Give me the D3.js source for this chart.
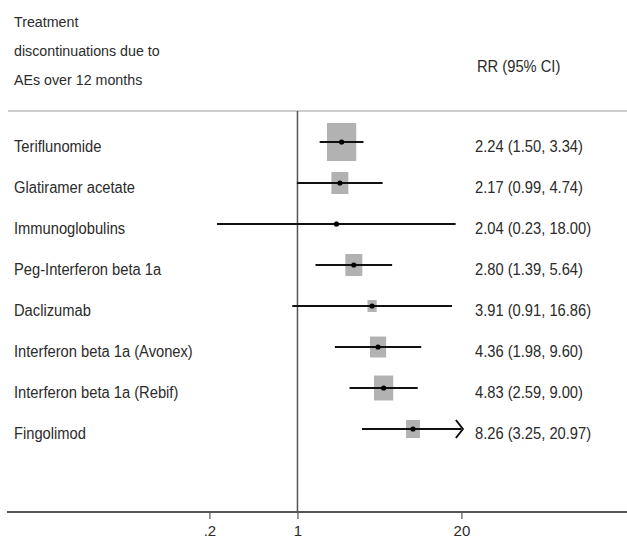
<!DOCTYPE html>
<html>
<head>
<meta charset="utf-8">
<script src="https://cdn.jsdelivr.net/npm/d3@7"></script>
<style>
  html, body { margin: 0; padding: 0; background: #fff; }
  svg { display: block; }
  text { font-family: "Liberation Sans", Arial, sans-serif; fill: #2b2b2b; }
</style>
</head>
<body>
<script>
// Relative risk of treatment discontinuation due to adverse events (12 months)
const treatments = [
  "Teriflunomide",
  "Glatiramer acetate",
  "Immunoglobulins",
  "Peg-Interferon beta 1a",
  "Daclizumab",
  "Interferon beta 1a (Avonex)",
  "Interferon beta 1a (Rebif)",
  "Fingolimod"
];
const rr     = [2.24, 2.17, 2.04, 2.80, 3.91, 4.36, 4.83, 8.26];
const ciLow  = [1.50, 0.99, 0.23, 1.39, 0.91, 1.98, 2.59, 3.25];
const ciHigh = [3.34, 4.74, 18.00, 5.64, 16.86, 9.60, 9.00, 20.97];
// relative study weights (%), drive the box areas
const weights = [36.4, 12.2, 0.6, 12.2, 3.6, 11.1, 15.7, 8.2];

const headerLines = ["Treatment", "discontinuations due to", "AEs over 12 months"];
const estHeader = "RR (95% CI)";
const tickValues = [0.2, 1, 20];
const tickLabels = [".2", "1", "20"];

const W = 627, H = 539;
const narrow = 0.92; // condensed text look
const svg = d3.select("body").append("svg").attr("width", W).attr("height", H);

const x = d3.scaleLog().domain([0.2, 20]).range([209.4, 461.4]);
const y = d3.scalePoint().domain(treatments).range([142, 429]);
const boxH = d3.scaleSqrt().domain([0, d3.max(weights)]).range([0, 38]);
const aspect = 0.77;

const axisY = 512, headerRuleY = 111;

// places a horizontally condensed text at (tx, ty)
function placeText(sel, tx, ty, anchor = "start") {
  sel.attr("x", 0).attr("y", 0)
    .attr("text-anchor", anchor)
    .attr("transform", (d, i) => `translate(${tx(d, i)},${ty(d, i)}) scale(${narrow},1)`);
}

// header text
svg.append("g").selectAll("text").data(headerLines).join("text")
  .attr("font-size", 15.5).text(d => d)
  .call(placeText, () => 14, (d, i) => 27 + i * 29);
svg.append("text").datum(estHeader).attr("font-size", 16).text(d => d)
  .call(placeText, () => 477, () => 72);

// header rule
svg.append("line").attr("x1", 8).attr("x2", W).attr("y1", headerRuleY).attr("y2", headerRuleY)
  .attr("stroke", "#cfcfcf").attr("stroke-width", 2);

// null line at RR = 1
svg.append("line").attr("x1", x(1)).attr("x2", x(1)).attr("y1", headerRuleY).attr("y2", axisY)
  .attr("stroke", "#555").attr("stroke-width", 1.5);

// x axis
svg.append("line").attr("x1", 7).attr("x2", W).attr("y1", axisY).attr("y2", axisY)
  .attr("stroke", "#555").attr("stroke-width", 2);
const axis = d3.axisBottom(x).tickValues(tickValues)
  .tickFormat((d, i) => tickLabels[i]).tickSize(7).tickPadding(6).tickSizeOuter(0);
const gAxis = svg.append("g").attr("transform", `translate(0,${axisY})`).call(axis);
gAxis.select(".domain").remove();
gAxis.selectAll(".tick line").attr("stroke", "#555").attr("stroke-width", 1.2);
gAxis.selectAll(".tick text").attr("font-size", 15).attr("fill", "#2b2b2b")
  .style("font-family", "'Liberation Sans', Arial, sans-serif");

const rows = treatments.map((t, i) => ({
  t, rr: rr[i], lo: ciLow[i], hi: ciHigh[i], w: weights[i]
}));
const xMax = x.domain()[1];

// row labels
svg.append("g").selectAll("text").data(rows).join("text")
  .attr("font-size", 16).text(d => d.t)
  .call(placeText, () => 14, d => y(d.t) + 9.5);

// estimate labels
svg.append("g").selectAll("text").data(rows).join("text")
  .attr("font-size", 16)
  .text(d => `${d.rr.toFixed(2)} (${d.lo.toFixed(2)}, ${d.hi.toFixed(2)})`)
  .call(placeText, () => 475, d => y(d.t) + 9.5);

// weight boxes
svg.append("g").selectAll("rect").data(rows).join("rect")
  .attr("x", d => x(d.rr) - boxH(d.w) * aspect / 2)
  .attr("y", d => y(d.t) - boxH(d.w) / 2)
  .attr("width", d => boxH(d.w) * aspect)
  .attr("height", d => boxH(d.w))
  .attr("fill", "#b2b2b2");

// confidence intervals
svg.append("g").selectAll("line").data(rows).join("line")
  .attr("x1", d => x(Math.max(d.lo, x.domain()[0])))
  .attr("x2", d => x(Math.min(d.hi, xMax)))
  .attr("y1", d => y(d.t)).attr("y2", d => y(d.t))
  .attr("stroke", "#111").attr("stroke-width", 2.2);

// arrows for intervals beyond the axis
svg.append("g").selectAll("path").data(rows.filter(d => d.hi > xMax)).join("path")
  .attr("d", d => {
    const tx = x(xMax) + 1.5, ty = y(d.t);
    return `M${tx - 7},${ty - 9}L${tx},${ty}L${tx - 7},${ty + 9}`;
  })
  .attr("fill", "none").attr("stroke", "#111").attr("stroke-width", 2);

// point estimates
svg.append("g").selectAll("circle").data(rows).join("circle")
  .attr("cx", d => x(d.rr)).attr("cy", d => y(d.t)).attr("r", 2.6)
  .attr("fill", "#000");
</script>
</body>
</html>
